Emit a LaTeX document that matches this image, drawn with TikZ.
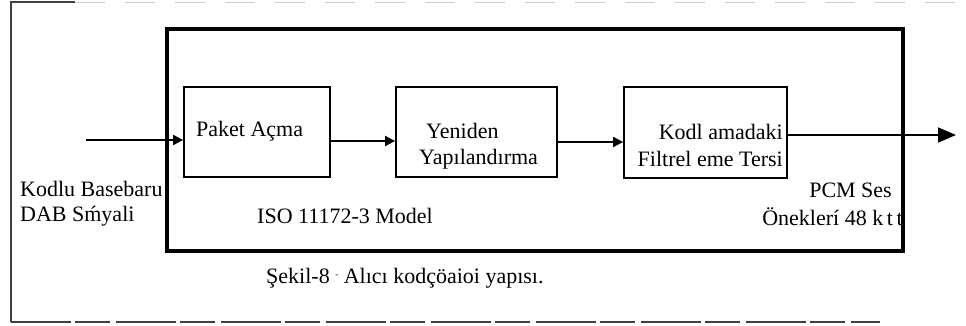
\documentclass[tikz,border=0pt]{standalone}
\usepackage{fontspec}
\setmainfont{Liberation Serif}
\usetikzlibrary{arrows.meta}
\begin{document}
\begin{tikzpicture}[x=1pt,y=-1pt,
  txt/.style={font=\fontsize{22}{27}\selectfont, inner sep=0pt},
  blk/.style={draw=black, line width=1.8pt, inner sep=0pt},
  conn/.style={line width=1.8pt, -{Triangle[length=10pt,width=10pt]}},
  bigconn/.style={line width=1.8pt, -{Triangle[length=18pt,width=15pt]}},
  frame/.style={draw=black!75, line width=1.4pt}]
\useasboundingbox (0,0) rectangle (966,326);
\fill[white] (0,0) rectangle (966,326);
% outer scan frame
\draw[frame] (11,322) -- (11,2) -- (75,2);
\draw[frame, dash pattern=on 60pt off 4pt on 35pt off 6pt] (11,322) -- (880,322);
\draw[black!20, line width=0.8pt, dash pattern=on 30pt off 20pt] (75,2) -- (960,2);
% big model box
\node[draw=black, line width=4.5pt, minimum width=736pt, minimum height=222pt, inner sep=0pt] (model) at (535,140) {};
% blocks
\node[blk, minimum width=146pt, minimum height=90pt] (b1) at (257,132) {};
\node[blk, minimum width=161pt, minimum height=90pt] (b2) at (476.5,132) {};
\node[blk, minimum width=163pt, minimum height=91pt] (b3) at (705.5,132.5) {};
% texts in blocks
\node[txt, anchor=west] (t1) at (196,131) {Paket Açma};
\node[txt, anchor=west] (t2a) at (426,131) {Yeniden};
\node[txt, anchor=west] (t2b) at (419,159) {Yapılandırma};
\node[txt, anchor=east] (t3a) at (783,132) {Kodl amadaki};
\node[txt, anchor=east] (t3b) at (783,159) {Filtrel eme Tersi};
% labels
\node[txt, anchor=west] (l1) at (20,189) {Kodlu Basebaru};
\node[txt, anchor=west] (l2) at (20,216) {DAB S\'{m}yali};
\node[txt, anchor=west] (l3) at (257,216) {ISO 11172-3 Model};
\node[txt, anchor=east] (l4) at (892,190) {PCM Ses};
\node[txt, anchor=east] (l5) at (903,217) {Öneklerí 48 k\,t\,t};
\node[txt, anchor=west] (cap) at (266,278) {Şekil-8 \raisebox{6pt}{\fontsize{9}{9}\selectfont -} Alıcı kodçöaioi yapısı.};
% connectors
\coordinate (in) at (86,140);
\coordinate (out) at (956,135);
\draw[conn] (in) -- (in -| b1.west);
\draw[conn] (b1.east |- 0,141) -- (b2.west |- 0,141);
\draw[conn] (b2.east |- 0,142) -- (b3.west |- 0,142);
\draw[bigconn] (b3.east |- out) -- (out);
\end{tikzpicture}
\end{document}
